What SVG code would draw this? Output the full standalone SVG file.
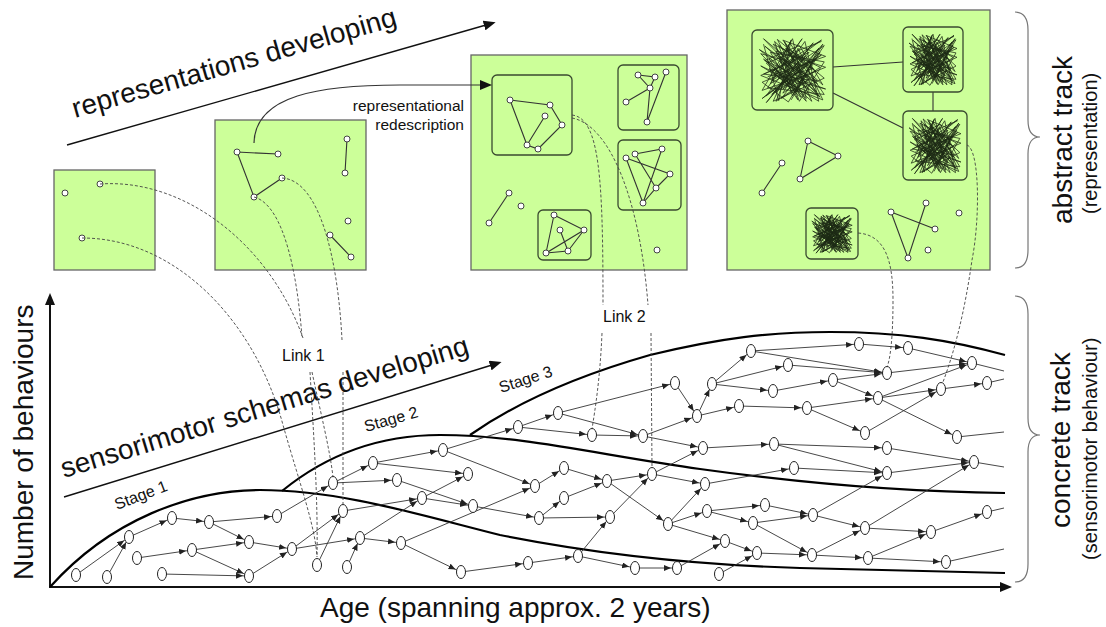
<svg xmlns="http://www.w3.org/2000/svg" xmlns:xlink="http://www.w3.org/1999/xlink" width="1106" height="627" viewBox="0 0 1106 627">
<style>
text{font-family:"Liberation Sans",Arial,sans-serif;fill:#111}
.big{font-size:28px}
.sub{font-size:20px}
.lab{font-size:16px}
.red{font-size:15.5px}
.panel{fill:#ccff99;stroke:#666;stroke-width:1.3}
.box{fill:#ccff99;stroke:#3a4a30;stroke-width:1.3}
.pn{fill:#fff;stroke:#444;stroke-width:1}
.pe{stroke:#333;stroke-width:1.1;fill:none}
.scr{fill:none;stroke:#1c2a14;stroke-width:0.75;vector-effect:non-scaling-stroke}
.dash{fill:none;stroke:#444;stroke-width:0.9;stroke-dasharray:3 2}
.curve{fill:none;stroke:#000;stroke-width:2.2}
.bn{fill:#fff;stroke:#222;stroke-width:1}
.e line{stroke:#333;stroke-width:0.9;marker-end:url(#ah)}
.stub line{stroke:#333;stroke-width:0.9}
.brace{fill:none;stroke:#777;stroke-width:1.2}
</style>
<defs>
<marker id="ah" markerUnits="userSpaceOnUse" markerWidth="14" markerHeight="8" refX="13" refY="3" orient="auto"><path d="M0,0 L7,3 L0,6 z" fill="#222"/></marker>
<marker id="big" markerUnits="userSpaceOnUse" markerWidth="14" markerHeight="10" refX="2" refY="5" orient="auto"><path d="M0,0 L12,5 L0,10 z" fill="#111"/></marker>
<polyline id="pa" class="scr" points="8,12 30,95 48,6 18,70 92,28 12,88 68,8 88,96 4,44 62,72 28,5 96,62 22,96 52,28 84,82 10,15 66,58 36,78 94,12 44,97 6,68 76,38 40,18 90,90 16,34 58,94 26,22 98,46 54,64 20,86 74,24 8,56 86,66 38,40 64,4 14,76 96,86 46,10 30,62 80,48 4,26 70,96 42,44 92,6 20,52 56,82 88,18 34,92 72,66 10,36 60,14 94,72 24,8 50,88 82,34 6,92 66,42 36,6 98,30 14,60"/>
<polyline id="pb" class="scr" points="92,8 12,40 70,92 50,4 6,80 84,52 30,14 60,96 96,38 18,24 44,70 88,88 8,4 76,62 26,96 58,18 94,94 4,58 68,30 36,84 90,46 22,12 52,50 12,98 80,10 40,62 98,78 16,48 62,90 32,30 86,70 2,20 74,80 46,26 20,66 96,14 56,74 8,34 78,96 38,8 64,56 24,82 90,24 48,94"/>
<symbol id="scrib" viewBox="0 0 100 100" preserveAspectRatio="none">
<use xlink:href="#pa"/><use xlink:href="#pb"/>
</symbol>
</defs>
<rect width="1106" height="627" fill="#fff"/>

<!-- titles -->
<g id="titles">
<text class="big" transform="translate(75,118) rotate(-16)">representations developing</text>
<line x1="67" y1="145" x2="486" y2="25" stroke="#111" stroke-width="1.4" marker-end="url(#big)"/>
<text class="big" transform="translate(64,478) rotate(-17)">sensorimotor schemas developing</text>
<line x1="64" y1="497" x2="492" y2="365" stroke="#111" stroke-width="1.4" marker-end="url(#big)"/>
<text class="big" transform="translate(33,580) rotate(-90)">Number of behaviours</text>
<text class="big" x="320" y="617">Age (spanning approx. 2 years)</text>
<text class="big" transform="translate(1072,224) rotate(-90)">abstract track</text>
<text class="sub" transform="translate(1097,214) rotate(-90)">(representation)</text>
<text class="big" transform="translate(1070,528) rotate(-90)">concrete track</text>
<text class="sub" transform="translate(1097,560) rotate(-90)">(sensorimotor behaviour)</text>
<path class="brace" d="M1015,12 Q1028,12 1028,30 L1028,120 Q1028,137 1040,137 Q1028,137 1028,154 L1028,250 Q1028,268 1015,268"/>
<path class="brace" d="M1015,296 Q1028,296 1028,314 L1028,418 Q1028,435 1040,435 Q1028,435 1028,452 L1028,564 Q1028,582 1015,582"/>
</g>

<!-- axes -->
<g id="axes">
<line x1="50" y1="588" x2="50" y2="303" stroke="#111" stroke-width="2" marker-end="url(#big)"/>
<line x1="49" y1="587" x2="1002" y2="587" stroke="#111" stroke-width="2" marker-end="url(#big)"/>
</g>

<!-- stage curves -->
<g id="stages">
<path class="curve" d="M50,587 C110,520 190,490 260,490 C340,490 420,515 500,535 C600,555 700,565 800,568 L1005,573"/>
<path class="curve" d="M282,491 C320,460 370,435 440,435 C520,435 600,455 700,469 C800,483 900,492 1005,493"/>
<path class="curve" d="M470,435 C520,400 580,375 650,355 C720,338 770,332 830,332 C900,332 950,340 1005,355"/>
<text class="lab" transform="translate(117,510) rotate(-21)">Stage 1</text>
<text class="lab" transform="translate(366,432) rotate(-16)">Stage 2</text>
<text class="lab" transform="translate(501,393) rotate(-18)">Stage 3</text>
</g>

<!-- top panels -->
<g id="panel-a">
<rect class="panel" x="54" y="170" width="101" height="100"/>
<circle class="pn" cx="65" cy="193" r="3"/><circle class="pn" cx="100" cy="184" r="3"/><circle class="pn" cx="82" cy="238" r="3"/>
</g>
<g id="panel-b">
<rect class="panel" x="215" y="120" width="151" height="150"/>
<path class="pe" d="M237,152 L278,154 M237,152 L254,197 L282,178 M347,139 L345,173 M330,235 L351,257"/>
<circle class="pn" cx="237" cy="152" r="3"/><circle class="pn" cx="278" cy="154" r="3"/><circle class="pn" cx="254" cy="197" r="3"/><circle class="pn" cx="282" cy="178" r="3"/><circle class="pn" cx="347" cy="139" r="3"/><circle class="pn" cx="345" cy="173" r="3"/><circle class="pn" cx="348" cy="221" r="3"/><circle class="pn" cx="330" cy="235" r="3"/><circle class="pn" cx="351" cy="257" r="3"/>
</g>
<g id="panel-c">
<rect class="panel" x="471" y="55" width="216" height="215"/>
<rect class="box" x="492" y="75" width="80" height="80" rx="5"/>
<rect class="box" x="618" y="65" width="61" height="65" rx="5"/>
<rect class="box" x="618" y="140" width="63" height="70" rx="5"/>
<rect class="box" x="538" y="210" width="53" height="50" rx="5"/>
<path class="pe" d="M510,100 L550,105 L562,125 L538,149 L527,145 L510,100 M527,145 L545,116"/>
<path class="pe" d="M638,75 L655,77 L650,88 L638,75 M650,88 L626,102 M650,88 L647,122 L666,72"/>
<path class="pe" d="M626,158 L643,203 L656,188 L670,174 L626,158 M635,154 L662,149 L643,203 M635,154 L656,188"/>
<path class="pe" d="M554,215 L584,230 L546,253 L554,215 M584,230 L568,251 L560,230 M546,253 L568,251"/>
<path class="pe" d="M489,223 L509,193"/>
<g>
<circle class="pn" cx="510" cy="100" r="3"/><circle class="pn" cx="550" cy="105" r="3"/><circle class="pn" cx="545" cy="116" r="3"/><circle class="pn" cx="562" cy="125" r="3"/><circle class="pn" cx="527" cy="145" r="3"/><circle class="pn" cx="538" cy="149" r="3"/>
<circle class="pn" cx="638" cy="75" r="3"/><circle class="pn" cx="655" cy="77" r="3"/><circle class="pn" cx="666" cy="72" r="3"/><circle class="pn" cx="650" cy="88" r="3"/><circle class="pn" cx="626" cy="102" r="3"/><circle class="pn" cx="647" cy="122" r="3"/>
<circle class="pn" cx="626" cy="158" r="3"/><circle class="pn" cx="635" cy="154" r="3"/><circle class="pn" cx="662" cy="149" r="3"/><circle class="pn" cx="670" cy="174" r="3"/><circle class="pn" cx="656" cy="188" r="3"/><circle class="pn" cx="643" cy="203" r="3"/>
<circle class="pn" cx="554" cy="215" r="3"/><circle class="pn" cx="560" cy="230" r="3"/><circle class="pn" cx="584" cy="230" r="3"/><circle class="pn" cx="568" cy="251" r="3"/><circle class="pn" cx="546" cy="253" r="3"/>
<circle class="pn" cx="489" cy="223" r="3"/><circle class="pn" cx="509" cy="193" r="3"/><circle class="pn" cx="521" cy="206" r="3"/><circle class="pn" cx="657" cy="250" r="3"/>
</g>
</g>
<g id="panel-d">
<rect class="panel" x="727" y="10" width="263" height="260"/>
<path class="pe" d="M833,67 L903,62 M833,93 L903,128 M933,92 L933,111"/>
<rect class="box" x="752" y="30" width="81" height="80" rx="5"/>
<rect class="box" x="903" y="27" width="60" height="65" rx="5"/>
<rect class="box" x="903" y="111" width="64" height="69" rx="5"/>
<rect class="box" x="806" y="208" width="52" height="51" rx="5"/>
<use xlink:href="#scrib" x="758" y="36" width="69" height="68"/>
<use xlink:href="#scrib" x="908" y="32" width="50" height="55"/>
<use xlink:href="#scrib" x="908" y="116" width="54" height="59"/>
<use xlink:href="#scrib" x="811" y="213" width="42" height="41"/>
<path class="pe" d="M782,163 L762,193 M808,141 L838,156 L800,179 L808,141 M891,212 L935,229 M891,212 L908,258 L926,203"/>
<circle class="pn" cx="782" cy="163" r="3"/><circle class="pn" cx="762" cy="193" r="3"/><circle class="pn" cx="808" cy="141" r="3"/><circle class="pn" cx="838" cy="156" r="3"/><circle class="pn" cx="800" cy="179" r="3"/>
<circle class="pn" cx="891" cy="212" r="3"/><circle class="pn" cx="926" cy="203" r="3"/><circle class="pn" cx="935" cy="229" r="3"/><circle class="pn" cx="908" cy="258" r="3"/><circle class="pn" cx="959" cy="213" r="3"/><circle class="pn" cx="928" cy="250" r="3"/>
</g>

<!-- redescription -->
<g id="redescription">
<path d="M254,143 C255,95 320,85 400,85 L482,85" fill="none" stroke="#333" stroke-width="1.2" marker-end="url(#big)"/>
<text class="red" x="464" y="111" text-anchor="end">representational</text>
<text class="red" x="464" y="130" text-anchor="end">redescription</text>
</g>

<!-- connectors -->
<g id="connectors">
<g id="links">
<path class="dash" d="M100,184 C185,178 270,245 303,338 M310,372 C314,440 318,500 317,557"/>
<path class="dash" d="M82,238 C175,238 255,320 283,425 C300,485 315,525 317,557"/>
<path class="dash" d="M254,197 C285,205 298,280 302,338 M312,372 C320,410 330,450 333,477"/>
<path class="dash" d="M282,178 C320,180 338,260 342,340 M343,372 L343,505"/>
<path class="dash" d="M572,115 C600,118 603,180 603,305 M602,333 C600,380 595,410 592,429"/>
<path class="dash" d="M572,118 C610,125 640,200 648,305 M651,333 L652,468"/>
<path class="dash" d="M858,233 C885,235 893,260 893,300 C893,340 890,360 887,367"/>
<path class="dash" d="M967,145 C980,150 980,220 972,260 C965,310 955,350 943,382"/>
<text class="lab" x="282" y="361">Link 1</text>
<text class="lab" x="603" y="322">Link 2</text>
</g>
<g class="e">
<line x1="76" y1="575" x2="129" y2="537"/>
<line x1="107" y1="577" x2="129" y2="537"/>
<line x1="129" y1="537" x2="172" y2="518"/>
<line x1="172" y1="518" x2="209" y2="522"/>
<line x1="209" y1="522" x2="277" y2="516"/>
<line x1="209" y1="522" x2="249" y2="542"/>
<line x1="137" y1="558" x2="192" y2="550"/>
<line x1="192" y1="550" x2="249" y2="542"/>
<line x1="192" y1="550" x2="249" y2="576"/>
<line x1="162" y1="574" x2="249" y2="576"/>
<line x1="249" y1="542" x2="292" y2="549"/>
<line x1="249" y1="576" x2="292" y2="549"/>
<line x1="277" y1="516" x2="333" y2="483"/>
<line x1="292" y1="549" x2="343" y2="511"/>
<line x1="292" y1="549" x2="360" y2="538"/>
<line x1="317" y1="565" x2="343" y2="511"/>
<line x1="347" y1="567" x2="360" y2="538"/>
<line x1="333" y1="483" x2="373" y2="463"/>
<line x1="333" y1="483" x2="397" y2="480"/>
<line x1="343" y1="511" x2="422" y2="498"/>
<line x1="360" y1="538" x2="401" y2="543"/>
<line x1="360" y1="538" x2="422" y2="498"/>
<line x1="373" y1="463" x2="443" y2="450"/>
<line x1="373" y1="463" x2="468" y2="474"/>
<line x1="397" y1="480" x2="473" y2="506"/>
<line x1="422" y1="498" x2="468" y2="474"/>
<line x1="422" y1="498" x2="473" y2="506"/>
<line x1="401" y1="543" x2="461" y2="572"/>
<line x1="401" y1="543" x2="535" y2="486"/>
<line x1="443" y1="450" x2="518" y2="427"/>
<line x1="443" y1="450" x2="535" y2="486"/>
<line x1="473" y1="506" x2="539" y2="518"/>
<line x1="461" y1="572" x2="528" y2="563"/>
<line x1="518" y1="427" x2="558" y2="413"/>
<line x1="518" y1="427" x2="592" y2="435"/>
<line x1="558" y1="413" x2="675" y2="383"/>
<line x1="558" y1="413" x2="643" y2="436"/>
<line x1="592" y1="435" x2="643" y2="436"/>
<line x1="643" y1="436" x2="697" y2="416"/>
<line x1="643" y1="436" x2="703" y2="448"/>
<line x1="675" y1="383" x2="697" y2="416"/>
<line x1="697" y1="416" x2="712" y2="384"/>
<line x1="697" y1="416" x2="739" y2="406"/>
<line x1="712" y1="384" x2="751" y2="351"/>
<line x1="712" y1="384" x2="788" y2="365"/>
<line x1="712" y1="384" x2="773" y2="391"/>
<line x1="751" y1="351" x2="859" y2="344"/>
<line x1="751" y1="351" x2="887" y2="373"/>
<line x1="535" y1="486" x2="564" y2="468"/>
<line x1="564" y1="468" x2="607" y2="481"/>
<line x1="607" y1="481" x2="652" y2="474"/>
<line x1="607" y1="481" x2="668" y2="524"/>
<line x1="652" y1="474" x2="705" y2="484"/>
<line x1="652" y1="474" x2="703" y2="448"/>
<line x1="539" y1="518" x2="564" y2="498"/>
<line x1="539" y1="518" x2="610" y2="517"/>
<line x1="564" y1="498" x2="607" y2="481"/>
<line x1="528" y1="563" x2="578" y2="556"/>
<line x1="578" y1="556" x2="610" y2="517"/>
<line x1="578" y1="556" x2="635" y2="568"/>
<line x1="610" y1="517" x2="652" y2="474"/>
<line x1="635" y1="568" x2="677" y2="568"/>
<line x1="677" y1="568" x2="725" y2="541"/>
<line x1="668" y1="524" x2="707" y2="511"/>
<line x1="668" y1="524" x2="725" y2="541"/>
<line x1="668" y1="524" x2="705" y2="484"/>
<line x1="725" y1="541" x2="757" y2="553"/>
<line x1="719" y1="574" x2="757" y2="553"/>
<line x1="739" y1="406" x2="807" y2="408"/>
<line x1="703" y1="448" x2="774" y2="444"/>
<line x1="705" y1="484" x2="794" y2="468"/>
<line x1="707" y1="511" x2="765" y2="505"/>
<line x1="707" y1="511" x2="753" y2="523"/>
<line x1="788" y1="365" x2="887" y2="373"/>
<line x1="773" y1="391" x2="833" y2="380"/>
<line x1="833" y1="380" x2="887" y2="373"/>
<line x1="833" y1="380" x2="878" y2="398"/>
<line x1="859" y1="344" x2="908" y2="348"/>
<line x1="908" y1="348" x2="972" y2="363"/>
<line x1="887" y1="373" x2="972" y2="363"/>
<line x1="878" y1="398" x2="972" y2="363"/>
<line x1="878" y1="398" x2="941" y2="389"/>
<line x1="878" y1="398" x2="957" y2="437"/>
<line x1="941" y1="389" x2="987" y2="383"/>
<line x1="807" y1="408" x2="878" y2="398"/>
<line x1="807" y1="408" x2="865" y2="433"/>
<line x1="865" y1="433" x2="941" y2="389"/>
<line x1="774" y1="444" x2="887" y2="448"/>
<line x1="774" y1="444" x2="887" y2="473"/>
<line x1="794" y1="468" x2="887" y2="473"/>
<line x1="887" y1="448" x2="974" y2="462"/>
<line x1="887" y1="473" x2="974" y2="462"/>
<line x1="765" y1="505" x2="813" y2="515"/>
<line x1="753" y1="523" x2="813" y2="515"/>
<line x1="753" y1="523" x2="812" y2="555"/>
<line x1="813" y1="515" x2="865" y2="528"/>
<line x1="813" y1="515" x2="887" y2="473"/>
<line x1="865" y1="528" x2="931" y2="532"/>
<line x1="865" y1="528" x2="974" y2="462"/>
<line x1="931" y1="532" x2="987" y2="512"/>
<line x1="812" y1="555" x2="865" y2="528"/>
<line x1="812" y1="555" x2="868" y2="558"/>
<line x1="868" y1="558" x2="931" y2="532"/>
<line x1="868" y1="558" x2="946" y2="562"/>
<line x1="757" y1="553" x2="812" y2="555"/>
</g>
<g class="stub">
<line x1="972" y1="363" x2="1004" y2="371"/>
<line x1="987" y1="383" x2="1004" y2="379"/>
<line x1="957" y1="437" x2="1004" y2="432"/>
<line x1="974" y1="462" x2="1004" y2="467"/>
<line x1="987" y1="512" x2="1004" y2="508"/>
<line x1="946" y1="562" x2="1004" y2="549"/>
</g>
</g>

<!-- behaviour nodes -->
<g id="behaviours">
<ellipse id="b1" class="bn" cx="76" cy="575" rx="4.5" ry="6.5"/>
<ellipse id="b2" class="bn" cx="107" cy="577" rx="4.5" ry="6.5"/>
<ellipse id="b3" class="bn" cx="129" cy="537" rx="4.5" ry="6.5"/>
<ellipse id="b4" class="bn" cx="137" cy="558" rx="4.5" ry="6.5"/>
<ellipse id="b5" class="bn" cx="172" cy="518" rx="4.5" ry="6.5"/>
<ellipse id="b6" class="bn" cx="162" cy="574" rx="4.5" ry="6.5"/>
<ellipse id="b7" class="bn" cx="192" cy="550" rx="4.5" ry="6.5"/>
<ellipse id="b8" class="bn" cx="209" cy="522" rx="4.5" ry="6.5"/>
<ellipse id="b9" class="bn" cx="249" cy="542" rx="4.5" ry="6.5"/>
<ellipse id="b10" class="bn" cx="249" cy="576" rx="4.5" ry="6.5"/>
<ellipse id="b11" class="bn" cx="277" cy="516" rx="4.5" ry="6.5"/>
<ellipse id="b12" class="bn" cx="292" cy="549" rx="4.5" ry="6.5"/>
<ellipse id="b13" class="bn" cx="317" cy="565" rx="4.5" ry="6.5"/>
<ellipse id="b14" class="bn" cx="333" cy="483" rx="4.5" ry="6.5"/>
<ellipse id="b15" class="bn" cx="343" cy="511" rx="4.5" ry="6.5"/>
<ellipse id="b16" class="bn" cx="347" cy="567" rx="4.5" ry="6.5"/>
<ellipse id="b17" class="bn" cx="360" cy="538" rx="4.5" ry="6.5"/>
<ellipse id="b18" class="bn" cx="373" cy="463" rx="4.5" ry="6.5"/>
<ellipse id="b19" class="bn" cx="397" cy="480" rx="4.5" ry="6.5"/>
<ellipse id="b20" class="bn" cx="401" cy="543" rx="4.5" ry="6.5"/>
<ellipse id="b21" class="bn" cx="422" cy="498" rx="4.5" ry="6.5"/>
<ellipse id="b22" class="bn" cx="443" cy="450" rx="4.5" ry="6.5"/>
<ellipse id="b23" class="bn" cx="468" cy="474" rx="4.5" ry="6.5"/>
<ellipse id="b24" class="bn" cx="473" cy="506" rx="4.5" ry="6.5"/>
<ellipse id="b25" class="bn" cx="461" cy="572" rx="4.5" ry="6.5"/>
<ellipse id="b26" class="bn" cx="518" cy="427" rx="4.5" ry="6.5"/>
<ellipse id="b27" class="bn" cx="558" cy="413" rx="4.5" ry="6.5"/>
<ellipse id="b28" class="bn" cx="592" cy="435" rx="4.5" ry="6.5"/>
<ellipse id="b29" class="bn" cx="643" cy="436" rx="4.5" ry="6.5"/>
<ellipse id="b30" class="bn" cx="675" cy="383" rx="4.5" ry="6.5"/>
<ellipse id="b31" class="bn" cx="697" cy="416" rx="4.5" ry="6.5"/>
<ellipse id="b32" class="bn" cx="712" cy="384" rx="4.5" ry="6.5"/>
<ellipse id="b33" class="bn" cx="751" cy="351" rx="4.5" ry="6.5"/>
<ellipse id="b34" class="bn" cx="739" cy="406" rx="4.5" ry="6.5"/>
<ellipse id="b35" class="bn" cx="703" cy="448" rx="4.5" ry="6.5"/>
<ellipse id="b36" class="bn" cx="535" cy="486" rx="4.5" ry="6.5"/>
<ellipse id="b37" class="bn" cx="564" cy="468" rx="4.5" ry="6.5"/>
<ellipse id="b38" class="bn" cx="607" cy="481" rx="4.5" ry="6.5"/>
<ellipse id="b39" class="bn" cx="652" cy="474" rx="4.5" ry="6.5"/>
<ellipse id="b40" class="bn" cx="564" cy="498" rx="4.5" ry="6.5"/>
<ellipse id="b41" class="bn" cx="539" cy="518" rx="4.5" ry="6.5"/>
<ellipse id="b42" class="bn" cx="610" cy="517" rx="4.5" ry="6.5"/>
<ellipse id="b43" class="bn" cx="668" cy="524" rx="4.5" ry="6.5"/>
<ellipse id="b44" class="bn" cx="705" cy="484" rx="4.5" ry="6.5"/>
<ellipse id="b45" class="bn" cx="707" cy="511" rx="4.5" ry="6.5"/>
<ellipse id="b46" class="bn" cx="528" cy="563" rx="4.5" ry="6.5"/>
<ellipse id="b47" class="bn" cx="578" cy="556" rx="4.5" ry="6.5"/>
<ellipse id="b48" class="bn" cx="635" cy="568" rx="4.5" ry="6.5"/>
<ellipse id="b49" class="bn" cx="677" cy="568" rx="4.5" ry="6.5"/>
<ellipse id="b50" class="bn" cx="725" cy="541" rx="4.5" ry="6.5"/>
<ellipse id="b51" class="bn" cx="757" cy="553" rx="4.5" ry="6.5"/>
<ellipse id="b52" class="bn" cx="719" cy="574" rx="4.5" ry="6.5"/>
<ellipse id="b53" class="bn" cx="788" cy="365" rx="4.5" ry="6.5"/>
<ellipse id="b54" class="bn" cx="773" cy="391" rx="4.5" ry="6.5"/>
<ellipse id="b55" class="bn" cx="833" cy="380" rx="4.5" ry="6.5"/>
<ellipse id="b56" class="bn" cx="859" cy="344" rx="4.5" ry="6.5"/>
<ellipse id="b57" class="bn" cx="908" cy="348" rx="4.5" ry="6.5"/>
<ellipse id="b58" class="bn" cx="887" cy="373" rx="4.5" ry="6.5"/>
<ellipse id="b59" class="bn" cx="878" cy="398" rx="4.5" ry="6.5"/>
<ellipse id="b60" class="bn" cx="972" cy="363" rx="4.5" ry="6.5"/>
<ellipse id="b61" class="bn" cx="941" cy="389" rx="4.5" ry="6.5"/>
<ellipse id="b62" class="bn" cx="987" cy="383" rx="4.5" ry="6.5"/>
<ellipse id="b63" class="bn" cx="807" cy="408" rx="4.5" ry="6.5"/>
<ellipse id="b64" class="bn" cx="865" cy="433" rx="4.5" ry="6.5"/>
<ellipse id="b65" class="bn" cx="957" cy="437" rx="4.5" ry="6.5"/>
<ellipse id="b66" class="bn" cx="774" cy="444" rx="4.5" ry="6.5"/>
<ellipse id="b67" class="bn" cx="887" cy="448" rx="4.5" ry="6.5"/>
<ellipse id="b68" class="bn" cx="794" cy="468" rx="4.5" ry="6.5"/>
<ellipse id="b69" class="bn" cx="887" cy="473" rx="4.5" ry="6.5"/>
<ellipse id="b70" class="bn" cx="974" cy="462" rx="4.5" ry="6.5"/>
<ellipse id="b71" class="bn" cx="765" cy="505" rx="4.5" ry="6.5"/>
<ellipse id="b72" class="bn" cx="753" cy="523" rx="4.5" ry="6.5"/>
<ellipse id="b73" class="bn" cx="813" cy="515" rx="4.5" ry="6.5"/>
<ellipse id="b74" class="bn" cx="865" cy="528" rx="4.5" ry="6.5"/>
<ellipse id="b75" class="bn" cx="931" cy="532" rx="4.5" ry="6.5"/>
<ellipse id="b76" class="bn" cx="987" cy="512" rx="4.5" ry="6.5"/>
<ellipse id="b77" class="bn" cx="812" cy="555" rx="4.5" ry="6.5"/>
<ellipse id="b78" class="bn" cx="868" cy="558" rx="4.5" ry="6.5"/>
<ellipse id="b79" class="bn" cx="946" cy="562" rx="4.5" ry="6.5"/>
</g>
</svg>
